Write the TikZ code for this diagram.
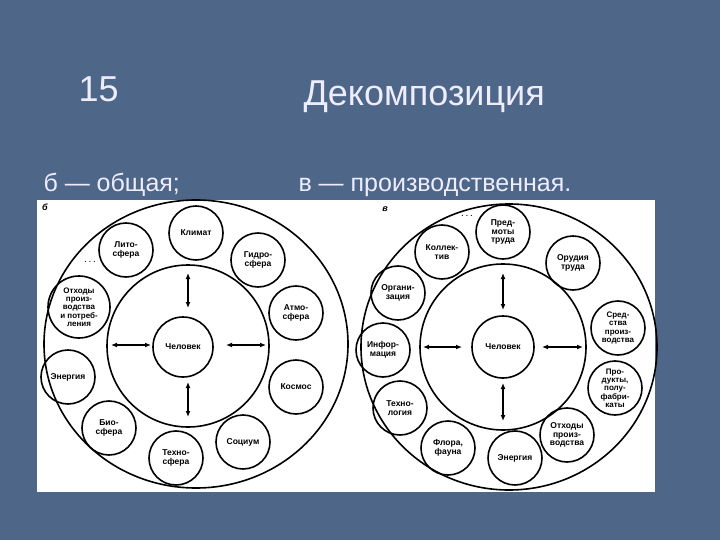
\documentclass[tikz,border=0pt]{standalone}
\usepackage{fontspec}
\setmainfont{Liberation Sans}
\usetikzlibrary{arrows.meta}
\begin{document}
\begin{tikzpicture}[x=1pt,y=-1pt,
  sc/.style={circle,draw,line width=1.6pt,minimum size=54pt,inner sep=0pt,align=center,font=\fontsize{8.5}{8.8}\selectfont\bfseries,text=black},
  ring/.style={draw,line width=1.6pt},
  ar/.style={{Latex[length=6pt,width=5pt]}-{Latex[length=6pt,width=5pt]},line width=1.4pt},
  ttl/.style={text=white!93!blue,font=\fontsize{36}{36}\selectfont,anchor=base west},
  sub/.style={text=white!93!blue,font=\fontsize{25}{25}\selectfont,anchor=base west}]
\useasboundingbox (0,0) rectangle (720,540);
\fill[fill={rgb,255:red,78;green,102;blue,135}] (0,0) rectangle (720,540);
\fill[white] (37,200) rectangle (655,492);
\node[ttl] (t1) at (75,102) {15};
\node[ttl] (t2) at (300,106) {Декомпозиция};
\node[sub] (s1) at (40,192) {б — общая;};
\node[sub] (s2) at (295,192) {в — производственная.};
% left
\node[font=\itshape\bfseries\small] (lb) at (45,207) {б};
\draw[ring] (196,344) ellipse (152pt and 144pt);
\node[ring,circle,minimum size=162pt] (li) at (188,346) {};
\node[sc,minimum size=60pt] (lc) at (183,347) {Человек};
\node[sc] (l1) at (196,233) {Климат};
\node[sc] (l2) at (126,250) {Лито-\\сфера};
\node[sc] (l3) at (258,260) {Гидро-\\сфера};
\node[sc] (l4) at (296,313) {Атмо-\\сфера};
\node[sc] (l5) at (296,387) {Космос};
\node[sc] (l6) at (243,442) {Социум};
\node[sc] (l7) at (176,458) {Техно-\\сфера};
\node[sc] (l8) at (109,428) {Био-\\сфера};
\node[sc] (l9) at (68,377) {Энергия};
\node[sc,minimum size=62pt,font=\fontsize{8}{8.3}\selectfont\bfseries] (l10) at (79,307) {Отходы\\произ-\\водства\\и потреб-\\ления};
\node (ld) at (90,262) {.\,.\,.};
\coordinate (lu1) at (188,273); \coordinate (lu2) at (188,308);
\coordinate (ld1) at (188,382); \coordinate (ld2) at (188,417);
\coordinate (ll1) at (111,345); \coordinate (ll2) at (151,345);
\coordinate (lr1) at (226,345); \coordinate (lr2) at (266,345);
\draw[ar] (lu1) -- (lu2); \draw[ar] (ld1) -- (ld2);
\draw[ar] (ll1) -- (ll2); \draw[ar] (lr1) -- (lr2);
% right
\node[font=\itshape\bfseries\small] (rb) at (385,209) {в};
\draw[ring] (509,347) ellipse (148pt and 143pt);
\node[ring,circle,minimum size=166pt] (ri) at (503,347) {};
\node[sc,minimum size=62pt] (rc) at (503,347) {Человек};
\node[sc] (r1) at (503,232) {Пред-\\моты\\труда};
\node[sc] (r2) at (442,252) {Коллек-\\тив};
\node[sc] (r3) at (573,263) {Орудия\\труда};
\node[sc] (r4) at (398,293) {Органи-\\зация};
\node[sc,font=\fontsize{8}{8.3}\selectfont\bfseries] (r5) at (618,328) {Сред-\\ства\\произ-\\водства};
\node[sc] (r6) at (383,350) {Инфор-\\мация};
\node[sc,font=\fontsize{8}{8.3}\selectfont\bfseries] (r7) at (615,388) {Про-\\дукты,\\полу-\\фабри-\\каты};
\node[sc] (r8) at (400,408) {Техно-\\логия};
\node[sc] (r9) at (567,435) {Отходы\\произ-\\водства};
\node[sc] (r10) at (448,448) {Флора,\\фауна};
\node[sc] (r11) at (515,458) {Энергия};
\node (rd) at (467,216) {.\,.\,.};
\coordinate (ru1) at (503,273); \coordinate (ru2) at (503,310);
\coordinate (rd1) at (503,383); \coordinate (rd2) at (503,421);
\coordinate (rl1) at (423,347); \coordinate (rl2) at (462,347);
\coordinate (rr1) at (542,347); \coordinate (rr2) at (583,347);
\draw[ar] (ru1) -- (ru2); \draw[ar] (rd1) -- (rd2);
\draw[ar] (rl1) -- (rl2); \draw[ar] (rr1) -- (rr2);
\end{tikzpicture}
\end{document}
